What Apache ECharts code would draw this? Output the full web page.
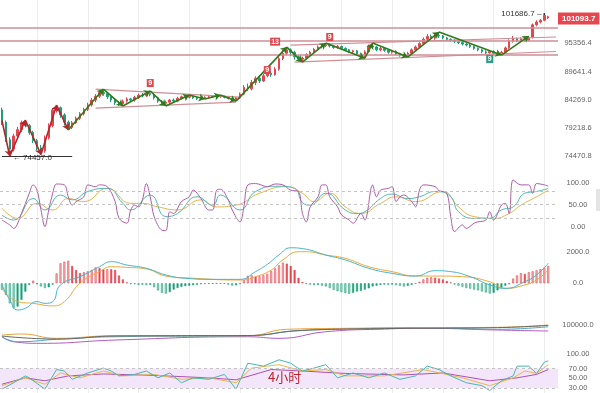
<!DOCTYPE html>
<html><head><meta charset="utf-8">
<script src="https://cdn.jsdelivr.net/npm/echarts@6/dist/echarts.min.js"></script>
<style>html,body{margin:0;padding:0;background:#fff}#c{width:600px;height:393px}</style>
</head><body><div id="c"></div><script>
// ---------- data ----------
const slotCount = 143;
const categories = Array.from({length: slotCount}, (_, i) => String(i));

const opens = [
82400,80200,77200,75600,77800,78900,80100,79600,78400,77000,
75800,75300,77500,79600,82300,82800,81500,80200,79300,80100,
80900,81700,82500,83300,84200,84900,85600,85400,84800,84200,
83700,83500,84000,84400,84200,84700,85100,85000,85400,85200,
84600,84000,83600,83800,84200,84000,84500,84800,84700,84900,
84600,84500,84600,84700,84800,84900,84800,84900,84700,84500,
84300,84600,85300,86600,86300,87500,88300,87800,88800,89300,
89000,90100,92200,93300,94000,93500,92600,92100,92300,93000,
93500,94100,94600,94900,95100,94800,94500,94700,94300,94000,
93600,93800,93200,92800,93600,94800,94600,94000,94300,93900,
93500,93700,93200,92900,92700,93300,94000,94600,95300,96200,
96800,96400,97000,96900,96500,96200,96000,95700,95500,95200,
95000,94700,94300,94000,93600,93400,93700,93300,93100,93500,
94400,95800,96300,95900,96300,96000,96600,99300,99900,100300,
100800];
const closes = [
80200,77200,75600,77800,78900,80100,79600,78400,77000,75800,
75300,77500,79600,82300,82800,81500,80200,79300,80100,80900,
81700,82500,83300,84200,84900,85600,85400,84800,84200,83700,
83500,84000,84400,84200,84700,85100,85000,85400,85200,84600,
84000,83600,83800,84200,84000,84500,84800,84700,84900,84600,
84500,84600,84700,84800,84900,84800,84900,84700,84500,84300,
84600,85300,86600,86300,87500,88300,87800,88800,89300,89000,
90100,92200,93300,94000,93500,92600,92100,92300,93000,93500,
94100,94600,94900,95100,94800,94500,94700,94300,94000,93600,
93800,93200,92800,93600,94800,94600,94000,94300,93900,93500,
93700,93200,92900,92700,93300,94000,94600,95300,96200,96800,
96400,97000,96900,96500,96200,96000,95700,95500,95200,95000,
94700,94300,94000,93600,93400,93700,93300,93100,93500,94400,
95800,96300,95900,96300,96000,96600,99300,99900,100300,101400,
101093.7];
const lows = [
79700,76800,74457,75200,77300,78500,79300,78000,76600,75400,
74700,75000,77200,79300,81900,81000,79600,78840,79000,79900,
80600,81400,82200,83000,83800,84600,85000,84400,83800,83300,
83100,83100,83700,83900,83900,84400,84700,84800,84900,84300,
83700,83300,83100,83500,83700,83800,84300,84400,84500,84400,
84200,84300,84400,84500,84600,84600,84600,84500,84300,84100,
84000,84400,85100,85900,86000,87000,87400,87600,88500,88600,
88800,89800,91900,92900,92700,92000,91700,91500,92000,92700,
93200,93800,94300,94600,94500,94200,94200,94000,93700,93300,
93200,92900,92500,92300,93400,94200,93700,93700,93600,93200,
93200,92900,92600,92500,92520,93100,93800,94400,95000,95900,
96000,96100,96500,96200,95900,95700,95400,95200,94900,94700,
94400,94000,93700,93300,93100,93200,93000,92900,92930,93300,
94200,95500,95600,95600,95700,95800,96400,99000,99600,100100,
100600];
const highs = [
82800,80500,77600,78200,79400,80500,80586,79900,78700,77300,
76300,77900,80000,82700,83280,83000,81800,80500,80400,81200,
82000,82800,83700,84600,85300,85900,86250,85700,85200,84500,
84000,84300,84700,84600,85000,85400,85500,85700,85900,85400,
84800,84200,84100,84400,84500,84800,85000,85000,85125,85000,
84800,84800,84900,85000,85100,85100,85125,85000,84800,84600,
84800,85600,87000,87300,88000,88700,88900,89200,89700,89800,
90500,92600,93900,94570,94300,93800,92900,92600,93300,93800,
94400,94900,95200,95400,95300,95000,95000,94900,94500,94200,
94000,94000,93400,93900,95100,95400,94800,94600,94500,94100,
94000,93900,93400,93100,93600,94300,94900,95600,96600,97300,
97200,97400,97730,97100,96700,96400,96200,95900,95700,95400,
95200,94900,94500,94200,93900,94000,93900,93500,93800,94700,
96200,96900,96600,96600,96600,96880,99600,100300,100600,101686.7,
101300];

const priceTicks = [74470.8, 79218.6, 84269.0, 89641.4, 95356.4];
const priceRange = [72220, 104860];
const lastPrice = 101093.7, maxPrice = 101686.7, minPrice = 74457.0;
const levelPrices = [98270, 95380, 92520];
const channelLines = [
  [[24, 86250], [61, 84755]],
  [[24, 82734], [60, 83830]],
  [[74, 94986], [142, 96687]],
  [[75, 91511], [142, 93654]]
];
const pivotIdx   = [0,2,6,10,14,17,26,31,38,42,48,52,56,60,73,77,83,93,95,104,112,128,135];
const pivotPrice = [80500,74457,80586,74700,83280,78840,86250,83100,85900,83100,85125,84400,85125,84000,94570,91500,95400,92300,95400,92520,97730,92930,96880];
const tdIdx   = [38, 68, 70, 84, 125];
const tdPrice = [87394, 89920, 95700, 96687, 92118];
const tdText  = ['9', '9', '13', '9', '9'];
const tdSide  = ['r', 'r', 'r', 'r', 'g'];
const gridIdx = [9,22,35,48,61,74,87,100,113,126,139];

const kLine = [[0,26],[3,15],[8,64],[11,38],[15,72],[18,61],[22,80],[27,87],[31,53],[33,38],[38,72],[42,23],[45,30],[50,68],[54,49],[56,72],[61,38],[65,80],[71,92],[75,87],[77,55],[79,49],[83,76],[88,38],[91,30],[93,34],[97,64],[100,74],[104,64],[107,68],[111,80],[115,68],[117,34],[121,19],[125,19],[128,38],[131,45],[134,76],[137,80],[140,87]];
const dLine = [[0,42],[4,19],[9,53],[13,38],[17,64],[21,57],[27,87],[33,53],[36,53],[40,45],[45,38],[51,61],[55,45],[60,49],[66,76],[73,91],[77,76],[80,57],[84,76],[88,45],[92,30],[97,53],[101,68],[106,57],[113,80],[117,45],[121,23],[126,19],[130,30],[133,49],[137,68],[140,83]];
const jLine = [[0,15],[2,4],[3,-4],[5,30],[7,76],[8,95],[9,83],[10,38],[11,0],[12,38],[13,76],[14,97],[16,95],[17,68],[18,49],[19,57],[21,68],[22,95],[24,91],[25,95],[27,91],[29,57],[30,19],[32,8],[33,38],[34,49],[35,45],[36,61],[37,98],[38,68],[39,23],[41,-8],[42,-9],[43,34],[44,30],[46,57],[48,68],[49,83],[51,64],[53,38],[54,38],[55,83],[56,85],[58,61],[59,38],[61,11],[62,45],[63,95],[65,98],[68,91],[70,97],[72,95],[74,83],[76,80],[77,30],[78,11],[79,45],[81,68],[82,95],[83,95],[84,68],[86,45],[87,27],[89,15],[90,8],[92,30],[93,15],[95,95],[96,68],[97,83],[99,87],[100,91],[101,57],[102,68],[103,72],[105,57],[106,45],[107,83],[108,95],[111,91],[112,82],[114,76],[115,23],[116,-11],[118,4],[119,-4],[121,8],[122,11],[124,15],[125,34],[126,15],[128,49],[129,53],[130,30],[131,106],[133,95],[135,95],[136,76],[137,98],[139,95],[140,92]];
const kdjTicks = [0, 50, 100];
const kdjLevels = [20, 50, 80];

const macdHist = [
-420,-740,-1270,-1580,-1480,-1050,-530,-100,170,-60,
-200,-300,-250,-80,630,1270,1370,1430,1100,840,
650,700,760,850,1010,960,880,900,890,850,
500,250,60,-60,-60,-100,-80,-120,-100,-250,
-450,-600,-650,-560,-400,-300,-220,-180,-150,-120,
-90,-60,-40,-30,-20,-20,-30,-40,-80,-140,
-120,-50,200,480,500,420,450,520,600,780,
950,1150,1310,1250,1100,850,350,80,-50,-80,
-120,-100,-150,-200,-300,-420,-500,-560,-620,-660,
-600,-520,-480,-400,-320,-200,-150,-100,-80,-100,
-80,-120,-150,-200,-150,-100,-30,100,250,350,
380,360,300,250,150,50,-80,-150,-220,-300,
-340,-400,-450,-520,-580,-650,-600,-450,-300,-150,
-60,300,500,640,600,700,760,820,900,1000,
1100];
const difLine = [[0,-100],[2,-1050],[4,-1690],[6,-1580],[9,-1160],[11,-1270],[13,-1160],[15,-100],[20,420],[25,1050],[28,1370],[32,1160],[37,950],[42,530],[47,320],[54,250],[61,250],[65,740],[68,1200],[71,1800],[74,2250],[77,2200],[83,1790],[88,1480],[94,950],[100,630],[106,460],[111,800],[115,740],[120,420],[125,-100],[129,-320],[134,100],[137,530],[140,1270]];
const deaLine = [[0,-320],[4,-1160],[8,-1270],[13,-1430],[16,-1160],[20,0],[25,740],[28,1050],[32,1010],[37,910],[42,460],[49,320],[61,210],[65,420],[69,840],[72,1480],[76,2000],[78,2000],[83,1790],[88,1580],[94,1050],[100,740],[106,460],[111,460],[118,420],[125,100],[129,-320],[134,-100],[137,210],[140,840]];
const macdTicks = [0, 2000];

const maOrange = [[0,87780],[5,89000],[14,83750],[29,86920],[63,86920],[73,94750],[88,95970],[108,96700],[127,97190],[140,100000]];
const maTeal   = [[0,85700],[4,79590],[14,82530],[29,85700],[63,86920],[75,92670],[88,95110],[108,96700],[127,94750],[140,97920]];
const maPurple = [[0,85700],[3,79590],[10,77640],[29,81670],[63,85700],[71,83750],[83,91810],[98,95110],[108,95970],[127,93890],[140,92670]];
const maDark   = [[0,86500],[14,82900],[29,86560],[46,87000],[63,87170],[77,93500],[98,95600],[115,96200],[127,96800],[140,99500]];
const maTicks = [100000];

const rsi6  = [[0,28],[3,41],[6,55],[7,51],[11,28],[14,68],[16,65],[18,48],[22,61],[26,71],[28,65],[30,55],[34,58],[37,65],[40,51],[43,61],[46,41],[49,51],[53,48],[57,58],[60,28],[63,81],[67,75],[71,88],[74,81],[77,65],[80,71],[83,78],[86,51],[90,61],[94,51],[98,61],[102,48],[106,55],[109,75],[112,68],[115,55],[119,41],[123,35],[125,25],[128,45],[131,55],[132,75],[135,75],[137,60],[139,83],[140,86]];
const rsi12 = [[0,35],[6,51],[11,38],[15,61],[20,51],[26,65],[31,55],[39,58],[46,48],[53,51],[60,41],[64,71],[71,78],[77,65],[83,68],[88,55],[98,55],[108,68],[118,51],[125,35],[131,51],[134,65],[137,60],[140,78]];
const rsi24 = [[0,38],[6,51],[11,45],[17,55],[26,59],[39,56],[53,51],[60,47],[69,68],[77,65],[88,60],[103,57],[113,61],[125,45],[132,51],[137,58],[140,68]];
const rsiTicks = [30, 50, 70, 100];
const rsiBand = [30, 70];
const periodLabel = '4小时';

// ---------- build ----------
const L = Math.log;
const UP = '#e2474f', DOWN = '#1a9f76';
const candleData = opens.map((o, i) => [L(o), L(closes[i]), L(lows[i]), L(highs[i])]);
const pos = a => a.map(p => [p[0], p[1]]);

const histData = macdHist.map((v, i) => {
  const prev = i > 0 ? macdHist[i - 1] : 0;
  const growing = Math.abs(v) >= Math.abs(prev);
  const base = v >= 0 ? UP : DOWN;
  const light = v >= 0 ? '#f6bcc2' : '#a8e0cb';
  return { value: [i, v], itemStyle: { color: growing ? light : base, borderColor: base, borderWidth: 0.6 } };
});

const gridL = 0, gridR = 42;
const grids = [
  { left: gridL, right: gridR, top: 0, height: 170 },
  { left: gridL, right: gridR, top: 177.4, height: 55.9 },
  { left: gridL, right: gridR, top: 247, height: 66.3 },
  { left: gridL, right: gridR, top: 320.1, height: 29.5 },
  { left: gridL, right: gridR, top: 350, height: 44 },
  { left: gridL, right: gridR, top: 0, height: 393 }
];
const xAxes = grids.map((g, k) => ({ type: 'category', gridIndex: k, data: categories, boundaryGap: true, show: false }));
const lab = (vals, fmt) => ({ show: true, customValues: vals, formatter: fmt, align: 'center', margin: 20, fontSize: 7.5, color: '#666', fontFamily: 'Liberation Sans, Arial, sans-serif' });
const yBase = k => ({ type: 'value', gridIndex: k, position: 'right', axisLine: { show: false }, axisTick: { show: false }, splitLine: { show: false } });
const yAxes = [
  Object.assign(yBase(0), { min: L(priceRange[0]), max: L(priceRange[1]), axisLabel: lab(priceTicks.map(L), v => Math.exp(v).toFixed(1)) }),
  Object.assign(yBase(1), { min: -15, max: 112, axisLabel: lab(kdjTicks, v => v.toFixed(2)) }),
  Object.assign(yBase(2), { min: -1900, max: 2300, axisLabel: lab(macdTicks, v => v.toFixed(1)) }),
  Object.assign(yBase(3), { min: 70000, max: 106000, axisLabel: lab(maTicks, v => v.toFixed(1)) }),
  Object.assign(yBase(4), { min: 20, max: 108, axisLabel: lab(rsiTicks, v => v.toFixed(2)) }),
  { type: 'value', gridIndex: 5, min: 0, max: 1, show: false }
];

const pink = { color: '#cf8e96', width: 1.5, type: 'solid' };
const mainMarkLines = [
  ...levelPrices.map(p => ({ yAxis: L(p), lineStyle: pink })),
  ...channelLines.map(c => [{ coord: [c[0][0], L(c[0][1])], lineStyle: { color: '#cf8e96', width: 1.2, type: 'solid' } }, { coord: [c[1][0], L(c[1][1])] }]),
  [{ coord: [0, L(minPrice)], lineStyle: { color: '#333', width: 1, type: 'solid' } }, { coord: [18, L(minPrice)] }]
];
const tdPoints = tdIdx.map((i, k) => ({
  coord: [i, L(tdPrice[k])], symbol: 'rect', symbolSize: tdText[k].length > 1 ? [10, 8] : [7, 8],
  itemStyle: { color: tdSide[k] === 'r' ? '#e0474e' : '#2a9d80' },
  label: { show: true, position: 'inside', formatter: tdText[k], color: '#fff', fontSize: 7, fontWeight: 'bold' }
}));

const zigSegments = pivotIdx.slice(0, -1).map((i, k) => [
  { coord: [i, L(pivotPrice[k])], lineStyle: { color: k < 5 ? '#b3262d' : '#2f7a1c', width: 1.6, type: 'solid' } },
  { coord: [pivotIdx[k + 1], L(pivotPrice[k + 1])] }
]);

const thin = (c) => ({ width: 1, color: c });
const lineS = (xi, data, color, smooth) => ({ type: 'line', xAxisIndex: xi, yAxisIndex: xi, data: pos(data), showSymbol: false, smooth: smooth, lineStyle: thin(color), silent: true, z: 3 });
const dashed = { color: '#c4c4c4', width: 1, type: [3, 3] };

const series = [
  { type: 'line', xAxisIndex: 5, yAxisIndex: 5, data: [], silent: true, z: 0,
    markLine: { silent: true, z: 0, symbol: ['none', 'none'], label: { show: false }, lineStyle: { color: '#ececec', width: 1, type: 'solid' }, data: gridIdx.map(i => ({ xAxis: i })) } },
  { type: 'candlestick', xAxisIndex: 0, yAxisIndex: 0, data: candleData, barWidth: 2, silent: true,
    itemStyle: { color: UP, color0: DOWN, borderColor: UP, borderColor0: DOWN, borderWidth: 1 },
    markLine: { silent: true, symbol: ['none', 'none'], label: { show: false }, data: mainMarkLines },
    markPoint: { silent: true, data: [
      ...tdPoints,
      { coord: [139, L(maxPrice)], symbol: 'circle', symbolSize: 2, itemStyle: { color: '#333' },
        label: { show: true, position: 'left', distance: 2, formatter: maxPrice.toFixed(1) + ' –', color: '#333', fontSize: 8 } },
      { coord: [2, L(minPrice)], symbol: 'circle', symbolSize: 0,
        label: { show: true, position: 'right', distance: 3, offset: [0, 2], formatter: '← ' + minPrice.toFixed(1), color: '#333', fontSize: 8 } }
    ] } },
  { type: 'line', xAxisIndex: 0, yAxisIndex: 0, data: pivotIdx.map((i, k) => [i, L(pivotPrice[k])]), showSymbol: false, lineStyle: { opacity: 0 }, silent: true,
    markLine: { silent: true, symbol: ['none', 'arrow'], symbolSize: 6, label: { show: false }, data: zigSegments } },
  { type: 'line', xAxisIndex: 0, yAxisIndex: 0, data: [[140, L(lastPrice)]], showSymbol: false, lineStyle: { width: 0 }, silent: true, z: 10,
    markLine: { silent: true, symbol: ['none', 'none'], lineStyle: { color: 'rgba(0,0,0,0)', width: 1 },
      label: { show: true, position: 'end', distance: 0, formatter: lastPrice.toFixed(1), backgroundColor: '#e8464f', color: '#fff', padding: [2, 4, 2, 4], fontSize: 8, fontWeight: 'bold' },
      data: [{ yAxis: L(lastPrice) }] } },
  Object.assign(lineS(1, dLine, '#e6b450', true), { markLine: { silent: true, symbol: ['none', 'none'], label: { show: false }, lineStyle: dashed, data: kdjLevels.map(v => ({ yAxis: v })) } }),
  lineS(1, kLine, '#4fbab2', true),
  lineS(1, jLine, '#b05ca8', 0.35),
  { type: 'bar', xAxisIndex: 2, yAxisIndex: 2, data: histData, barWidth: 2, silent: true },
  lineS(2, deaLine, '#eba83d', true),
  lineS(2, difLine, '#48b4c8', true),
  lineS(3, maPurple, '#b15cc0', true),
  lineS(3, maTeal, '#48a9c5', true),
  lineS(3, maOrange, '#e8a33a', true),
  lineS(3, maDark, '#666666', true),
  Object.assign(lineS(4, rsi24, '#b24fb0', false), {
    markArea: { silent: true, itemStyle: { color: '#f3e6fb' }, data: [[{ yAxis: rsiBand[0] }, { yAxis: rsiBand[1] }]] },
    markLine: { silent: true, symbol: ['none', 'none'], label: { show: false }, lineStyle: dashed, data: rsiBand.map(v => ({ yAxis: v })) } }),
  lineS(4, rsi12, '#e8b84a', false),
  lineS(4, rsi6, '#45b9b0', false)
];

const chart = echarts.init(document.getElementById('c'), null, { renderer: 'canvas' });
chart.setOption({
  animation: false,
  backgroundColor: '#ffffff',
  textStyle: { fontFamily: 'Liberation Sans, Arial, sans-serif' },
  grid: grids, xAxis: xAxes, yAxis: yAxes, series: series,
  graphic: [
    { type: 'text', left: 268, top: 371, z: 100, style: { text: periodLabel, fill: '#b8232b', font: '13px "Noto Sans CJK SC"' } },
    { type: 'rect', right: 0, top: 189, z: 100, shape: { width: 4, height: 22 }, style: { fill: '#e4e4e4' } }
  ]
});
</script></body></html>
